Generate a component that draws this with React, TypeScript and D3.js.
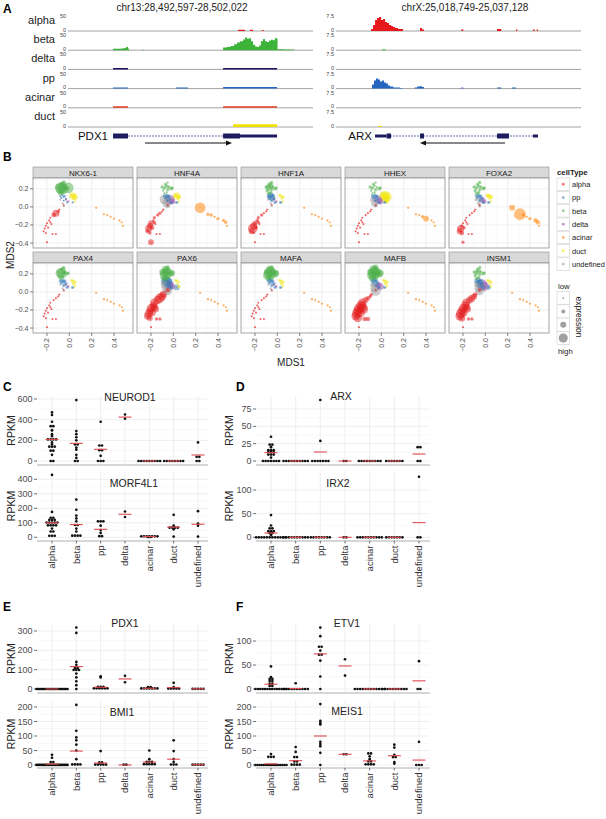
import React from 'react';
import * as d3 from 'd3';

const FONT = '"Liberation Sans", Arial, Helvetica, sans-serif';

// ---------------- A: coverage tracks ----------------
const trackNames = ['alpha', 'beta', 'delta', 'pp', 'acinar', 'duct'];
const trackColors = ['#e8191c', '#3db33a', '#1b1464', '#2466c0', '#e23a1e', '#efe000'];

const leftTitle = 'chr13:28,492,597-28,502,022';
const rightTitle = 'chrX:25,018,749-25,037,128';
const leftSpanKb = 9.425;
const rightSpanKb = 18.379;
const leftMax = 50;
const rightMax = 7.5;

// [kb from region start, signal] step points
const alphaLeft = [[7.06, 4], [7.35, 0], [7.56, 4], [7.68, 0], [8.05, 3], [8.12, 0]];
const betaLeft = [[1.87, 5], [2.2, 6], [2.33, 7], [2.41, 11], [2.49, 6], [2.53, 0], [3.07, 1.5], [3.15, 0],
  [6.44, 9], [6.6, 11], [6.75, 14], [6.9, 20], [7.02, 26], [7.14, 30], [7.27, 36], [7.35, 42], [7.43, 38],
  [7.52, 40], [7.6, 30], [7.68, 18], [7.77, 12], [7.85, 11], [7.93, 16], [8.01, 30], [8.1, 37], [8.18, 30],
  [8.26, 27], [8.35, 32], [8.43, 35], [8.51, 33], [8.59, 41], [8.66, 38], [8.7, 3], [9.0, 2], [9.4, 0]];
const deltaLeft = [[1.87, 5], [2.49, 0], [6.44, 5], [8.68, 0]];
const ppLeft = [[1.87, 4], [2.49, 0], [4.48, 4], [4.98, 0], [6.44, 5], [8.68, 0]];
const acinarLeft = [[1.87, 5], [2.49, 0], [6.44, 5], [8.68, 0]];
const ductLeft = [[6.85, 9], [8.68, 0]];

const alphaRight = [[2.63, 1], [2.78, 3], [2.93, 5.5], [3.08, 6.5], [3.23, 7], [3.38, 5.5], [3.53, 6], [3.68, 4.5],
  [3.83, 4], [3.98, 3], [4.13, 2.5], [4.28, 2], [4.43, 1.5], [4.65, 1], [5.03, 0], [6.3, 1.5], [6.45, 0.8],
  [6.6, 0], [9.4, 0.8], [9.55, 0], [12.08, 1], [12.4, 0], [13.5, 0.8], [13.6, 0], [14.78, 0.8], [14.9, 0],
  [15.05, 0.8], [15.15, 0]];
const betaRight = [[3.5, 0.5], [3.7, 0]];
const deltaRight: number[][] = [];
const ppRight = [[2.7, 2], [2.85, 4], [3.0, 5], [3.15, 4.5], [3.3, 3.5], [3.45, 4], [3.6, 3], [3.75, 2.5],
  [3.9, 1.5], [4.05, 1], [4.3, 0.5], [4.8, 0.3], [5.0, 0], [5.9, 0.5], [6.1, 1], [6.3, 1.2], [6.45, 0.8],
  [6.6, 0], [9.4, 0.5], [9.55, 0], [12.08, 0.5], [12.4, 0], [13.2, 0.5], [13.5, 0]];
const acinarRight: number[][] = [];
const ductRight = [[3.2, 0.6], [3.4, 0]];

const leftCoverage = [alphaLeft, betaLeft, deltaLeft, ppLeft, acinarLeft, ductLeft];
const rightCoverage = [alphaRight, betaRight, deltaRight, ppRight, acinarRight, ductRight];

// gene models: [startKb, endKb, kind]
const pdx1Span = [1.87, 8.68];
const pdx1Exons: [number, number, string][] = [[1.87, 2.49, 'cds'], [6.44, 7.14, 'cds'], [7.14, 8.68, 'utr']];
const pdx1Arrow = [3.2, 6.81];
const arxSpan = [2.93, 15.15];
const arxExons: [number, number, string][] = [[2.93, 3.8, 'utr'], [3.8, 4.13, 'cds'], [6.3, 6.6, 'cds'], [12.08, 12.98, 'cds'], [14.78, 15.15, 'utr']];
const arxArrow = [12.68, 6.3];

// ---------------- B: MDS small multiples ----------------
const cellTypes = ['alpha', 'pp', 'beta', 'delta', 'acinar', 'duct', 'undefined'];
const typeColors = ['#E41A1C', '#377EB8', '#4DAF4A', '#984EA3', '#FF7F00', '#F2E600', '#999999'];

const alphaCells = [[-0.05, 0.02], [-0.09, -0.03], [-0.12, -0.07], [-0.14, -0.09], [-0.17, -0.12], [-0.18, -0.15],
  [-0.2, -0.18], [-0.21, -0.21], [-0.22, -0.24], [-0.23, -0.27], [-0.21, -0.29], [-0.19, -0.23], [-0.16, -0.19],
  [-0.15, -0.3], [-0.12, -0.3], [-0.2, -0.39], [-0.17, -0.17], [-0.1, -0.05]];
const ppCells = [[-0.06, 0.13], [-0.05, 0.11], [-0.07, 0.1], [-0.04, 0.12], [-0.05, 0.07], [-0.03, 0.09], [-0.08, 0.12], [-0.02, 0.05], [0.03, 0.05]];
const betaCells = [[-0.08, 0.21], [-0.06, 0.23], [-0.05, 0.19], [-0.09, 0.18], [-0.07, 0.25], [-0.04, 0.22], [-0.02, 0.2],
  [-0.06, 0.16], [-0.01, 0.21], [-0.08, 0.15], [-0.1, 0.22], [-0.05, 0.27]];
const deltaCells = [[-0.03, 0.08], [-0.01, 0.06]];
const acinarCells = [[0.24, -0.01], [0.31, -0.08], [0.34, -0.09], [0.37, -0.11], [0.4, -0.13], [0.45, -0.15], [0.47, -0.17], [0.48, -0.21]];
const ductCells = [[0.03, 0.12], [0.05, 0.11], [0.04, 0.09], [0.05, 0.06], [0.02, 0.13]];
const undefinedCells = [[-0.06, 0.04], [-0.08, 0.08], [-0.05, 0.01]];
const cellsByType = [alphaCells, ppCells, betaCells, deltaCells, acinarCells, ductCells, undefinedCells];

const mdsGenes = ['NKX6-1', 'HNF4A', 'HNF1A', 'HHEX', 'FOXA2', 'PAX4', 'PAX6', 'MAFA', 'MAFB', 'INSM1'];
// expression level 0-9 per cell, groups in cellTypes order
const mdsExpression = [
  '115311111111111112 111111111 866434338343 11 11111111 54111 111',
  '112221445323111421 222222222 222122212121 74 82212221 53112 673',
  '111222357412111121 453222222 442232222222 11 11111111 22111 111',
  '111111111111111111 222222222 212121212121 64 11124111 87534 532',
  '111111125432111211 222222222 222222222222 43 49212331 33112 222',
  '111111111111111111 222222222 754322222222 11 11111111 22211 111',
  '357665656545522156 565544534 665555444443 54 11111111 21121 756',
  '111111111111111111 222222222 776655544433 11 11111111 22211 111',
  '123467777667733172 222222222 776666555544 45 11111111 22211 637',
  '235566667655522154 333333333 332222222222 87 11111111 22111 636',
];
const mdsTicks = [-0.2, 0, 0.2, 0.4];
const mdsYTicks = [0.2, 0, -0.2, -0.4];
const sizeLegendLevels = [1, 3, 5, 8];

// ---------------- C-F: RPKM dot plots ----------------
const groups = ['alpha', 'beta', 'pp', 'delta', 'acinar', 'duct', 'undefined'];

const neurod1 = [
  [470, 445, 380, 340, 335, 300, 295, 260, 240, 220, 210, 205, 200, 180, 160, 140, 140, 135, 100, 100, 60, 0, 0],
  [590, 290, 260, 230, 200, 170, 150, 130, 110, 60, 30, 0, 0],
  [380, 150, 150, 110, 100, 50, 0, 0, 0],
  [450, 410],
  [0, 0, 0, 0, 0, 0, 0, 0, 0],
  [0, 0, 0, 0, 0, 0, 0, 0],
  [180, 40, 40, 0, 0],
];
const neurod1Means = [209, 171, 113, 425, 0, 0, 58];

const morf4l1 = [
  [430, 175, 140, 130, 125, 120, 115, 110, 105, 100, 100, 95, 90, 85, 80, 75, 60, 40, 40, 20, 5, 5],
  [260, 190, 150, 130, 110, 90, 80, 60, 40, 20, 10, 10, 5],
  [110, 110, 110, 80, 50, 30, 10, 5],
  [178, 140],
  [15, 10, 8, 5, 5, 3, 3, 2, 2],
  [155, 80, 70, 70, 65, 60, 55, 5],
  [180, 95, 80, 5],
];
const morf4l1Means = [100, 88, 55, 159, 5, 70, 90];

const arx = [
  [35, 25, 22, 20, 17, 15, 15, 14, 12, 12, 10, 10, 8, 5, 0, 0, 0, 0, 0, 0, 0],
  [0, 0, 0, 0, 0, 0, 0, 0, 0, 0],
  [88, 29, 0, 0, 0, 0, 0, 0, 0],
  [0, 0],
  [0, 0, 0, 0, 0, 0, 0, 0, 0],
  [0, 0, 0, 0, 0, 0, 0],
  [20, 20, 0, 0],
];
const arxMeans = [12, 0, 13, 0, 0, 0, 10];

const irx2 = [
  [47, 25, 20, 18, 15, 12, 12, 10, 8, 5, 0, 0, 0, 0, 0, 0, 0, 0, 0, 0, 0, 0],
  [0, 0, 0, 0, 0, 0, 0, 0, 0, 0],
  [0, 0, 0, 0, 0, 0, 0, 0],
  [0, 0],
  [0, 0, 0, 0, 0, 0, 0, 0, 0, 0],
  [0, 0, 0, 0, 0, 0, 0],
  [128, 0, 0],
];
const irx2Means = [9, 0, 0, 0, 0, 0, 31];

const pdx1 = [
  [0, 0, 0, 0, 0, 0, 0, 0, 0, 0, 0, 0, 0, 0, 0, 0, 0, 0, 0, 0, 0, 0],
  [318, 290, 140, 125, 110, 105, 100, 100, 95, 80, 60, 40, 20, 0],
  [65, 60, 15, 10, 8, 5, 5, 5, 3, 3, 0],
  [68, 35],
  [12, 8, 5, 5, 3, 3, 2, 2, 0],
  [32, 10, 5, 3, 2, 0, 0],
  [3, 2, 0, 0, 0],
];
const pdx1Means = [0, 116, 9, 52, 4, 7, 1];

const bmi1 = [
  [35, 25, 12, 8, 5, 3, 0, 0, 0, 0, 0, 0, 0, 0, 0, 0, 0, 0, 0, 0, 0, 0, 0, 0],
  [207, 118, 95, 85, 70, 50, 20, 5, 3, 0, 0],
  [48, 10, 8, 5, 3, 0, 0, 0],
  [2, 0],
  [50, 20, 15, 10, 8, 5, 5, 3, 2, 0],
  [85, 48, 20, 10, 5, 0, 0],
  [3, 2, 0, 0, 0],
];
const bmi1Means = [3, 48, 7, 0, 10, 20, 1];

const etv1 = [
  [47, 25, 22, 20, 18, 15, 12, 10, 8, 5, 0, 0, 0, 0, 0, 0, 0, 0, 0, 0, 0, 0, 0, 0],
  [12, 0, 0, 0, 0, 0, 0, 0, 0, 0, 0],
  [128, 110, 88, 88, 80, 73, 70, 59, 26, 0],
  [62, 28],
  [0, 0, 0, 0, 0, 0, 0, 0, 0, 0, 0, 0],
  [0, 0, 0, 0, 0, 0, 0, 0, 0, 0],
  [58, 0, 0],
];
const etv1Means = [10, 1, 73, 48, 0, 0, 17];

const meis1 = [
  [38, 32, 28, 25, 0, 0, 0, 0, 0, 0, 0, 0, 0, 0, 0, 0, 0, 0, 0, 0],
  [62, 45, 30, 25, 15, 10, 5, 0, 0, 0],
  [210, 152, 145, 140, 80, 72, 65, 42, 0],
  [38, 36],
  [40, 40, 30, 20, 15, 10, 5, 5, 0, 0],
  [70, 60, 35, 30, 25, 10, 5],
  [80, 0, 0, 0],
];
const meis1Means = [4, 15, 100, 37, 14, 32, 17];

// layout of each dot panel (positions only)
const dotPanels = [
  { gene: 'NEUROD1', values: neurod1, means: neurod1Means, side: 0, top: 396, bottom: 465, y0: 461, yT: 399, tMax: 600, ticks: [0, 200, 400, 600], tx: 130, ty: 397, xLabels: false },
  { gene: 'MORF4L1', values: morf4l1, means: morf4l1Means, side: 0, top: 471, bottom: 541, y0: 537.3, yT: 479.3, tMax: 400, ticks: [0, 100, 200, 300, 400], tx: 134, ty: 483, xLabels: true },
  { gene: 'ARX', values: arx, means: arxMeans, side: 1, top: 396, bottom: 465, y0: 461, yT: 409, tMax: 75, ticks: [0, 25, 50, 75], tx: 341, ty: 396, xLabels: false },
  { gene: 'IRX2', values: irx2, means: irx2Means, side: 1, top: 471, bottom: 541, y0: 537.3, yT: 490, tMax: 100, ticks: [0, 50, 100], tx: 338, ty: 483, xLabels: true },
  { gene: 'PDX1', values: pdx1, means: pdx1Means, side: 0, top: 624, bottom: 693, y0: 689, yT: 631, tMax: 300, ticks: [0, 100, 200, 300], tx: 125, ty: 623, xLabels: false },
  { gene: 'BMI1', values: bmi1, means: bmi1Means, side: 0, top: 700, bottom: 768, y0: 765, yT: 707, tMax: 200, ticks: [0, 50, 100, 150, 200], tx: 122, ty: 712, xLabels: true },
  { gene: 'ETV1', values: etv1, means: etv1Means, side: 1, top: 624, bottom: 693, y0: 689, yT: 641, tMax: 100, ticks: [0, 50, 100], tx: 347, ty: 623, xLabels: false },
  { gene: 'MEIS1', values: meis1, means: meis1Means, side: 1, top: 700, bottom: 768, y0: 765, yT: 707, tMax: 200, ticks: [0, 50, 100, 150, 200], tx: 347, ty: 711, xLabels: true },
];
const sides = [
  { x0: 37, x1: 208, c0: 52, c1: 198, yLab: 11 },
  { x0: 256, x1: 430, c0: 271, c1: 419, yLab: 229 },
];

// ---------------- components ----------------
const PanelA: React.FC = () => {
  const xL = d3.scaleLinear().domain([0, leftSpanKb]).range([68, 295]);
  const xR = d3.scaleLinear().domain([0, rightSpanKb]).range([336, 581]);
  const base = (i: number) => 31 + i * 19.2;
  const geneY = 136;

  const drawGene = (x: d3.ScaleLinear<number, number>, span: number[], exons: [number, number, string][], arrow: number[], key: string) => {
    const a0 = x(arrow[0]), a1 = x(arrow[1]);
    const dir = a1 > a0 ? 1 : -1;
    return (
      <g key={key}>
        <line x1={x(span[0])} x2={x(span[1])} y1={geneY} y2={geneY} stroke="#6b6ba8" strokeWidth={1} strokeDasharray="2,1" />
        {exons.map((e, i) => {
          const h = e[2] === 'cds' ? 5 : 3;
          return <rect key={i} x={x(e[0])} y={geneY - h / 2} width={x(e[1]) - x(e[0])} height={h} fill="#1c1c5e" />;
        })}
        <line x1={a0} x2={a1 - dir * 4} y1={143} y2={143} stroke="#111" strokeWidth={1} />
        <path d={`M${a1},143 L${a1 - dir * 6},140.5 L${a1 - dir * 6},145.5 Z`} fill="#111" />
      </g>
    );
  };

  return (
    <g>
      <text x={3} y={13} fontSize={12} fontWeight="bold">A</text>
      <text x={182} y={11} fontSize={10} textAnchor="middle" fill="#222">{leftTitle}</text>
      <text x={465} y={11} fontSize={10} textAnchor="middle" fill="#222">{rightTitle}</text>
      {trackNames.map((name, i) => {
        const b = base(i);
        const yl = d3.scaleLinear().domain([0, leftMax]).range([b, b - 15]);
        const yr = d3.scaleLinear().domain([0, rightMax]).range([b, b - 15]);
        const areaL = d3.area<number[]>().x(d => xL(d[0])).y0(b).y1(d => yl(d[1])).curve(d3.curveStepAfter);
        const areaR = d3.area<number[]>().x(d => xR(d[0])).y0(b).y1(d => yr(d[1])).curve(d3.curveStepAfter);
        return (
          <g key={name}>
            <text x={55} y={b - 7} fontSize={11} textAnchor="end" fill="#222">{name}</text>
            <text x={66} y={b - 13} fontSize={5.5} textAnchor="end" fill="#444">{leftMax}</text>
            <text x={66} y={b + 0.5} fontSize={5.5} textAnchor="end" fill="#444">0</text>
            <text x={334} y={b - 13} fontSize={5.5} textAnchor="end" fill="#444">{rightMax}</text>
            <text x={334} y={b + 0.5} fontSize={5.5} textAnchor="end" fill="#444">0</text>
            <line x1={68} x2={313} y1={b} y2={b} stroke="#8a8a8a" strokeWidth={0.8} />
            <line x1={336} x2={581} y1={b} y2={b} stroke="#8a8a8a" strokeWidth={0.8} />
            {leftCoverage[i].length > 0 && <path d={areaL(leftCoverage[i]) || ''} fill={trackColors[i]} />}
            {rightCoverage[i].length > 0 && <path d={areaR(rightCoverage[i]) || ''} fill={trackColors[i]} />}
          </g>
        );
      })}
      <text x={108} y={140} fontSize={11.5} textAnchor="end" fill="#111">PDX1</text>
      <text x={372} y={140} fontSize={11.5} textAnchor="end" fill="#111">ARX</text>
      {drawGene(xL, pdx1Span, pdx1Exons, pdx1Arrow, 'pdx1')}
      {drawGene(xR, arxSpan, arxExons, arxArrow, 'arx')}
    </g>
  );
};

const PanelB: React.FC = () => {
  const px0 = [33, 137, 241, 345, 449];
  const pw = 100;
  const rows = [{ strip: 167, top: 178, bottom: 248 }, { strip: 252, top: 263, bottom: 333 }];
  const xs = d3.scaleLinear().domain([-0.325, 0.57]).range([0, pw]);
  const ys = d3.scaleLinear().domain([-0.455, 0.32]).range([70, 0]);
  const rs = d3.scaleLinear().domain([0, 9]).range([0.5, 6]);
  const minorX = [-0.3, -0.1, 0.1, 0.3, 0.5];
  const minorY = [0.3, 0.1, -0.1, -0.3];

  return (
    <g>
      <text x={3} y={161} fontSize={12} fontWeight="bold">B</text>
      {mdsGenes.map((gene, gi) => {
        const col = gi % 5, row = Math.floor(gi / 5);
        const ox = px0[col], r = rows[row];
        const levels = mdsExpression[gi].split(' ');
        const points: { x: number; y: number; r: number; c: string }[] = [];
        cellsByType.forEach((cells, ti) => {
          cells.forEach((c, ci) => {
            const lv = +(levels[ti][ci] ?? '1');
            points.push({ x: ox + xs(c[0]), y: r.top + ys(c[1]), r: rs(lv), c: typeColors[ti] });
          });
        });
        points.sort((a, b) => b.r - a.r);
        return (
          <g key={gene}>
            <rect x={ox} y={r.strip} width={pw} height={r.top - r.strip} fill="#d9d9d9" stroke="#8c8c8c" strokeWidth={0.6} />
            <text x={ox + pw / 2} y={r.strip + 8.5} fontSize={8} textAnchor="middle" fill="#1a1a1a">{gene}</text>
            <rect x={ox} y={r.top} width={pw} height={70} fill="#fff" />
            {minorX.map(v => <line key={'mx' + v} x1={ox + xs(v)} x2={ox + xs(v)} y1={r.top} y2={r.bottom} stroke="#f5f5f5" strokeWidth={0.5} />)}
            {minorY.map(v => <line key={'my' + v} x1={ox} x2={ox + pw} y1={r.top + ys(v)} y2={r.top + ys(v)} stroke="#f5f5f5" strokeWidth={0.5} />)}
            {mdsTicks.map(v => <line key={'gx' + v} x1={ox + xs(v)} x2={ox + xs(v)} y1={r.top} y2={r.bottom} stroke="#e6e6e6" strokeWidth={0.6} />)}
            {mdsYTicks.map(v => <line key={'gy' + v} x1={ox} x2={ox + pw} y1={r.top + ys(v)} y2={r.top + ys(v)} stroke="#e6e6e6" strokeWidth={0.6} />)}
            {points.map((p, i) => (
              <g key={i}>
                <circle cx={p.x} cy={p.y} r={p.r} fill={p.c} fillOpacity={0.5} />
                <circle cx={p.x} cy={p.y} r={0.5} fill={p.c} fillOpacity={0.8} />
              </g>
            ))}
            <rect x={ox} y={r.top} width={pw} height={70} fill="none" stroke="#7f7f7f" strokeWidth={0.7} />
            {col === 0 && mdsYTicks.map(v => (
              <g key={'yt' + v}>
                <line x1={ox - 3} x2={ox} y1={r.top + ys(v)} y2={r.top + ys(v)} stroke="#333" strokeWidth={0.6} />
                <text x={ox - 4.5} y={r.top + ys(v) + 2.5} fontSize={7} textAnchor="end" fill="#4d4d4d">{d3.format('.1f')(v).replace('-', '\u2212')}</text>
              </g>
            ))}
            {row === 1 && mdsTicks.map(v => (
              <g key={'xt' + v}>
                <line x1={ox + xs(v)} x2={ox + xs(v)} y1={r.bottom} y2={r.bottom + 3} stroke="#333" strokeWidth={0.6} />
                <text transform={`translate(${ox + xs(v) + 2.5},${r.bottom + 5}) rotate(-90)`} fontSize={7} textAnchor="end" fill="#4d4d4d">{d3.format('.1f')(v).replace('-', '\u2212')}</text>
              </g>
            ))}
          </g>
        );
      })}
      <text transform="translate(14,255) rotate(-90)" fontSize={10} textAnchor="middle" fill="#222">MDS2</text>
      <text x={291} y={366} fontSize={10} textAnchor="middle" fill="#222">MDS1</text>
      {/* colour legend */}
      <text x={557} y={175} fontSize={7.8} fontWeight="bold" fill="#222">cellType</text>
      {cellTypes.map((t, i) => {
        const y = 178 + i * 13.3;
        return (
          <g key={t}>
            <rect x={557} y={y} width={12.5} height={12.5} fill="#fff" stroke="#cfcfcf" strokeWidth={0.6} />
            <circle cx={563.25} cy={y + 6.25} r={1.4} fill={typeColors[i]} fillOpacity={0.6} />
            <text x={572} y={y + 9} fontSize={7.5} fill="#222">{t}</text>
          </g>
        );
      })}
      {/* size legend */}
      <text x={558} y={289} fontSize={7.8} fill="#222">low</text>
      {sizeLegendLevels.map((lv, i) => {
        const y = 291.5 + i * 13.3;
        return (
          <g key={lv}>
            <rect x={557} y={y} width={12.5} height={13.3} fill="#fff" stroke="#cfcfcf" strokeWidth={0.6} />
            <circle cx={563.25} cy={y + 6.65} r={rs(lv) * 0.85} fill="#888" fillOpacity={0.8} />
          </g>
        );
      })}
      <text x={558} y={354} fontSize={7.8} fill="#222">high</text>
      <text transform="translate(576,317) rotate(90)" fontSize={8.5} textAnchor="middle" fill="#222">expression</text>
    </g>
  );
};

function stackDots(values: number[], y: d3.ScaleLinear<number, number>, cx: number) {
  const grouped = d3.groups(values.map(v => y(v)), py => Math.round(py / 2.6));
  const out: { x: number; y: number }[] = [];
  grouped.forEach(([, ys]) => {
    const n = ys.length;
    const step = n > 1 ? Math.min(2.7, 31 / (n - 1)) : 0;
    const py = d3.mean(ys) as number;
    ys.forEach((_, i) => out.push({ x: cx + (i - (n - 1) / 2) * step, y: py }));
  });
  return out;
}

const DotPanels: React.FC = () => (
  <g>
    <text x={3} y={391} fontSize={12} fontWeight="bold">C</text>
    <text x={236} y={391} fontSize={12} fontWeight="bold">D</text>
    <text x={3} y={611} fontSize={12} fontWeight="bold">E</text>
    <text x={236} y={611} fontSize={12} fontWeight="bold">F</text>
    {dotPanels.map(p => {
      const s = sides[p.side];
      const x = d3.scalePoint<string>().domain(groups).range([s.c0, s.c1]);
      const y = d3.scaleLinear().domain([0, p.tMax]).range([p.y0, p.yT]);
      const minor = p.ticks.slice(1).map((t, i) => (t + p.ticks[i]) / 2);
      return (
        <g key={p.gene}>
          {minor.map(t => <line key={'m' + t} x1={s.x0} x2={s.x1} y1={y(t)} y2={y(t)} stroke="#f4f4f4" strokeWidth={0.6} />)}
          {p.ticks.map(t => <line key={'g' + t} x1={s.x0} x2={s.x1} y1={y(t)} y2={y(t)} stroke="#e8e8e8" strokeWidth={0.7} />)}
          {groups.map(g => <line key={'v' + g} x1={x(g)} x2={x(g)} y1={p.top} y2={p.bottom} stroke="#e8e8e8" strokeWidth={0.7} />)}
          <line x1={s.x0} x2={s.x1} y1={p.bottom} y2={p.bottom} stroke="#9a9a9a" strokeWidth={0.8} />
          {p.ticks.map(t => (
            <g key={'t' + t}>
              <line x1={s.x0 - 3} x2={s.x0} y1={y(t)} y2={y(t)} stroke="#333" strokeWidth={0.7} />
              <text x={s.x0 - 4.5} y={y(t) + 3} fontSize={9} textAnchor="end" fill="#4d4d4d">{t}</text>
            </g>
          ))}
          <text transform={`translate(${s.yLab + 4},${(p.top + p.bottom) / 2}) rotate(-90)`} fontSize={10.5} textAnchor="middle" fill="#222">RPKM</text>
          <text x={p.tx} y={p.ty + 4} fontSize={10.5} textAnchor="middle" fill="#222">{p.gene}</text>
          {groups.map((g, gi) => {
            const cx = x(g) as number;
            const dots = stackDots(p.values[gi], y, cx);
            return (
              <g key={g}>
                {dots.map((d, i) => <circle key={i} cx={d.x} cy={d.y} r={1.35} fill="#111" />)}
                <line x1={cx - 6.5} x2={cx + 6.5} y1={y(p.means[gi])} y2={y(p.means[gi])} stroke="#e04a50" strokeWidth={1.1} />
              </g>
            );
          })}
          {p.xLabels && groups.map(g => (
            <g key={'xl' + g}>
              <line x1={x(g)} x2={x(g)} y1={p.bottom} y2={p.bottom + 2.5} stroke="#333" strokeWidth={0.7} />
              <text transform={`translate(${(x(g) as number) + 3.3},${p.bottom + 4.5}) rotate(-90)`} fontSize={9.5} textAnchor="end" fill="#333">{g}</text>
            </g>
          ))}
        </g>
      );
    })}
  </g>
);

export default function App() {
  return (
    <div style={{ position: 'absolute', left: 0, top: 0, width: 606, height: 819, background: '#fff' }}>
      <svg width={606} height={819} style={{ display: 'block', fontFamily: FONT }}>
        <rect width={606} height={819} fill="#fff" />
        <PanelA />
        <PanelB />
        <DotPanels />
      </svg>
    </div>
  );
}
